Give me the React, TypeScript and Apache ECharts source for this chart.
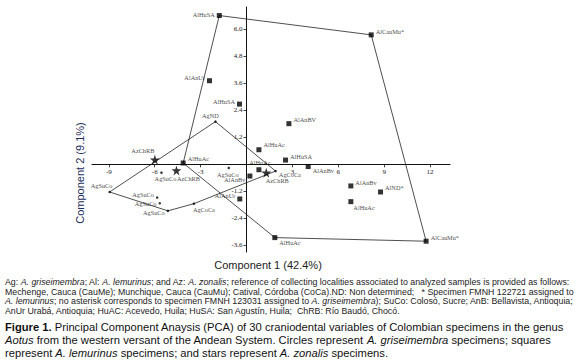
import React, { useEffect, useRef } from "react";
import * as echarts from "echarts";

// ---- Data ----
const squareNames = ["AlHuSA", "AlCauMu*", "AlAnUr", "AlHuSA", "AlAnBV", "AlHuAc", "AlHuSA", "AlAnBv", "AlHuAc", "AlAnBv", "AlAnUr", "AlHuAc", "AlCauMu*", "AlAnBv", "AlND*", "AlHuAc", "AlHuAc"];
const squareX = [-1.78, 8.15, -2.42, -0.46, 2.77, 0.81, 2.55, 4.03, 0.81, 0.22, -0.44, 1.85, 11.74, 6.82, 8.76, 6.82, -4.14];
const squareY = [6.62, 5.76, 3.72, 2.68, 1.81, 0.65, 0.19, -0.1, -0.24, -0.52, -1.54, -3.26, -3.42, -0.96, -1.23, -1.66, 0.06];

const circleNames = ["AgND", "AgSuCo", "AgSuCo", "AgSuCo", "AgSuCo", "AgSuCo", "AgSuCo", "AgCoCa", "AgCoCa"];
const circleX = [-2.03, -8.95, -5.56, -1.16, -5.84, -5.67, -5.14, -3.44, 1.9];
const circleY = [1.9, -1.23, -0.37, -0.16, -1.48, -1.73, -2.07, -1.75, -0.3];

const starNames = ["AzChRB", "AzChRB", "AzChRB"];
const starX = [-5.99, -4.58, 1.29];
const starY = [0.21, -0.27, -0.37];

// hull vertex indices (into the arrays above)
const squareHull = [0, 1, 12, 11, 16, 0];
const circleHull = [0, 8, 7, 6, 1, 0];

const xTicks = [-9, -6, -3, 3, 6, 9, 12];
const yTicks = [-3.6, -2.4, -1.2, 1.2, 2.4, 3.6, 4.8, 6.0];
const xRange = [-10.1, 13.3];
const yRange = [-3.9, 7];

const xName = "Component 1 (42.4%)";
const yName = "Component 2 (9.1%)";

const footLines = [
  "Ag: ~A. griseimembra~; Al: ~A. lemurinus~; and Az: ~A. zonalis~; reference of collecting localities associated to analyzed samples is provided as follows:",
  "Mechenge, Cauca (CauMe); Munchique, Cauca (CauMu); Catival, Córdoba (CoCa).ND: Non determined;   * Specimen FMNH 122721 assigned to",
  "~A. lemurinus~; no asterisk corresponds to specimen FMNH 123031 assigned to ~A. griseimembra~); SuCo: Colosó, Sucre; AnB: Bellavista, Antioquia;",
  "AnUr Urabá, Antioquia; HuAC: Acevedo, Huila; HuSA: San Agustín, Huila;  ChRB: Río Baudó, Chocó.",
];
const captionLines = [
  "^Figure 1.^ Principal Component Anaysis (PCA) of 30 craniodental variables of Colombian specimens in the genus",
  "~Aotus~ from the western versant of the Andean System. Circles represent ~A. griseimembra~ specimens; squares",
  "represent ~A. lemurinus~ specimens; and stars represent ~A. zonalis~ specimens.",
];

// ---- Label placement (style, kept apart from data) ----
const squareLabelPlace: [string, number, number][] = [
  ["left", 0, -1], ["right", 0, -3], ["left", 0, -3], ["left", 0, -3], ["right", 0, -4],
  ["right", 0, -5], ["right", 0, -4], ["right", 0, 4], ["top", 1, 0], ["left", 0, 3],
  ["left", 0, -3], ["right", 0, 5], ["right", 0, -4], ["right", 0, -3], ["right", 0, -4],
  ["right", -2, 6], ["right", 0, -4],
];
const circleLabelPlace: [string, number, number][] = [
  ["top", -5, 0], ["top", -8, 0], ["bottom", 4, 0], ["bottom", -1, 0], ["left", 0, -3],
  ["left", 0, 0], ["left", 0, 2], ["bottom", 10, 0], ["right", 0, 3],
];
const starLabelPlace: [string, number, number][] = [["top", -12, 1], ["bottom", 12, -2], ["bottom", 11, -2]];

const SERIF = "'Liberation Serif', 'Times New Roman', serif";
const SANS = "'Liberation Sans', Arial, sans-serif";
const STAR = "path://M50,0 L61,35 L98,35 L68,57 L79,91 L50,70 L21,91 L32,57 L2,35 L39,35 Z";

const GRID = { left: 92, top: 7, width: 358, height: 245 };

function richLine(line: string) {
  // ~ toggles italic, ^ toggles bold
  let out = "";
  let italic = false;
  let bold = false;
  let buf = "";
  const flush = () => {
    if (buf.length) {
      const key = bold ? "b" : italic ? "i" : "n";
      out += "{" + key + "|" + buf + "}";
      buf = "";
    }
  };
  for (const ch of line) {
    if (ch === "~") { flush(); italic = !italic; }
    else if (ch === "^") { flush(); bold = !bold; }
    else buf += ch;
  }
  flush();
  return out;
}

function pointData(names: string[], xs: number[], ys: number[], place: [string, number, number][]) {
  return names.map((n, i) => ({
    name: n,
    value: [xs[i], ys[i]],
    label: { position: place[i][0], offset: [place[i][1], place[i][2]] },
  }));
}

export default function App() {
  const ref = useRef<HTMLDivElement>(null);
  useEffect(() => {
    if (!ref.current) return;
    const chart = echarts.init(ref.current, null, { renderer: "svg" });

    const labelBase = {
      show: true,
      formatter: (p: any) => p.name,
      fontFamily: SERIF,
      fontSize: 6.3,
      color: "#111",
      distance: 2,
    };

    const footRich = (size: number, color: string) => ({
      n: { fontFamily: SANS, fontSize: size, fill: color },
      i: { fontFamily: SANS, fontSize: size, fontStyle: "italic", fill: color },
      b: { fontFamily: SANS, fontSize: size, fontWeight: "bold", fill: color },
    });

    const graphics: any[] = [];
    footLines.forEach((l, k) => {
      graphics.push({
        type: "text",
        x: 5,
        y: 282 + k * 9.7,
        style: {
          text: richLine(l), rich: footRich(8.8, "#222"), fill: "#222",
          fontFamily: SANS, fontSize: 8.8, align: "left", verticalAlign: "middle",
        },
      });
    });
    captionLines.forEach((l, k) => {
      graphics.push({
        type: "text",
        x: 5,
        y: 327 + k * 13,
        style: {
          text: richLine(l), rich: footRich(11.2, "#111"), fill: "#111",
          fontFamily: SANS, fontSize: 11.2, align: "left", verticalAlign: "middle",
        },
      });
    });
    graphics.push({
      type: "text",
      x: 268,
      y: 265,
      style: { text: xName, fontFamily: SANS, fontSize: 11, fill: "#222", align: "center", verticalAlign: "middle" },
    });
    graphics.push({
      type: "text",
      x: 80,
      y: 173,
      rotation: Math.PI / 2,
      style: { text: yName, fontFamily: SANS, fontSize: 11, fill: "#1d2d5c", align: "center", verticalAlign: "middle" },
    });

    const hullLine = (xs: number[], ys: number[], idx: number[]) =>
      idx.map((i) => [xs[i], ys[i]]);

    // place the axes through the origin by offsetting them from the grid edges
    const xAxisOffset = -GRID.height * (0 - yRange[0]) / (yRange[1] - yRange[0]);
    const yAxisOffset = -GRID.width * (0 - xRange[0]) / (xRange[1] - xRange[0]);

    chart.setOption({
      animation: false,
      backgroundColor: "#fff",
      grid: { ...GRID, containLabel: false, outerBoundsMode: "none" },
      xAxis: {
        type: "value",
        min: xRange[0],
        max: xRange[1],
        position: "bottom",
        offset: xAxisOffset,
        splitLine: { show: false },
        axisLine: { show: true, onZero: false, lineStyle: { color: "#111", width: 1 } },
        axisTick: { show: true, customValues: xTicks, length: 3, lineStyle: { color: "#111", width: 0.8 } },
        axisLabel: {
          customValues: xTicks,
          fontFamily: SERIF,
          fontSize: 7,
          color: "#222",
          margin: 4,
          formatter: (v: number) => String(Math.round(v)),
        },
      },
      yAxis: {
        type: "value",
        min: yRange[0],
        max: yRange[1],
        position: "left",
        offset: yAxisOffset,
        splitLine: { show: false },
        axisLine: { show: true, onZero: false, lineStyle: { color: "#111", width: 1 } },
        axisTick: { show: true, customValues: yTicks, length: 3, lineStyle: { color: "#111", width: 0.8 } },
        axisLabel: {
          customValues: yTicks,
          fontFamily: SERIF,
          fontSize: 7,
          color: "#222",
          margin: 4,
          formatter: (v: number) => v.toFixed(1),
        },
      },
      series: [
        {
          type: "line",
          data: hullLine(squareX, squareY, squareHull),
          symbol: "none",
          lineStyle: { color: "#222", width: 0.8 },
          silent: true,
          z: 1,
        },
        {
          type: "line",
          data: hullLine(circleX, circleY, circleHull),
          symbol: "none",
          lineStyle: { color: "#222", width: 0.8 },
          silent: true,
          z: 1,
        },
        {
          type: "scatter",
          symbol: "rect",
          symbolSize: 5,
          itemStyle: { color: "#000" },
          label: labelBase,
          data: pointData(squareNames, squareX, squareY, squareLabelPlace),
          z: 3,
        },
        {
          type: "scatter",
          symbol: "circle",
          symbolSize: 2.5,
          itemStyle: { color: "#000" },
          label: labelBase,
          data: pointData(circleNames, circleX, circleY, circleLabelPlace),
          z: 3,
        },
        {
          type: "scatter",
          symbol: STAR,
          symbolSize: 10,
          itemStyle: { color: "#000" },
          label: labelBase,
          data: pointData(starNames, starX, starY, starLabelPlace),
          z: 3,
        },
      ],
      graphic: graphics,
    });
    return () => chart.dispose();
  }, []);
  return <div ref={ref} style={{ position: "absolute", left: 0, top: 0, width: 579, height: 361 }} />;
}
